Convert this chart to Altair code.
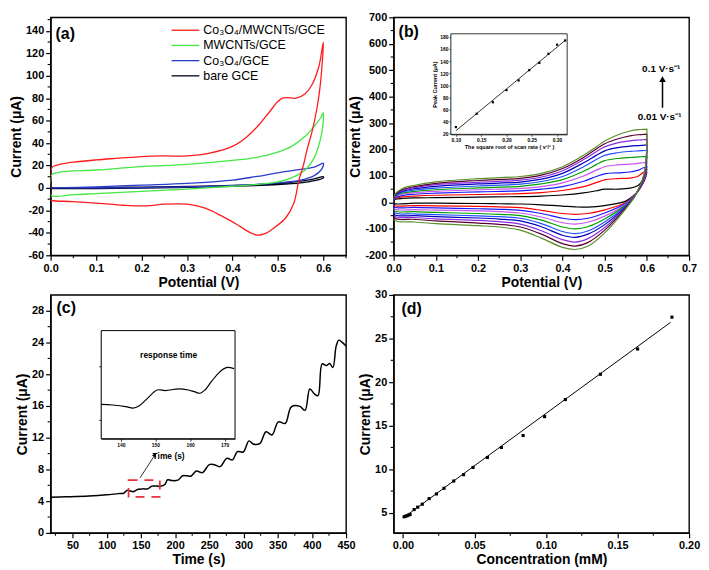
import altair as alt
import pandas as pd

FONT = "Liberation Sans"
W, H = 298, 240

# ---------------- (a) cyclic voltammograms ----------------
a_names = ["Co₃O₄/MWCNTs/GCE", "MWCNTs/GCE", "Co₃O₄/GCE", "bare GCE"]
a_colors = ["#ff1c1c", "#44e844", "#2a3ccc", "#00001a"]

a_red_x = [0.0, 0.005, 0.02, 0.05, 0.1, 0.15, 0.2, 0.25, 0.3, 0.35, 0.4, 0.43, 0.46, 0.48, 0.5, 0.51, 0.52, 0.54, 0.56, 0.575, 0.59, 0.6,
           0.598, 0.593, 0.586, 0.575, 0.564, 0.556, 0.546, 0.535, 0.517, 0.49, 0.47, 0.455, 0.44, 0.41, 0.375, 0.34, 0.30, 0.25, 0.21, 0.16, 0.107, 0.049, 0.005, 0.0, 0.0]
a_red_y = [15, 19, 21, 23, 25, 26.5, 28, 28.5, 28.5, 31, 37, 45, 57, 67, 77, 80, 80.5, 80, 84, 92, 108, 130,
           114, 91, 71, 50, 34, 20, 6.7, -13.7, -26.8, -36, -41, -42, -40, -32.6, -24.7, -18, -14.5, -14.5, -16, -15.4, -13.7, -12.2, -11.4, -11, 15]
a_grn_x = [0.0, 0.003, 0.02, 0.1, 0.2, 0.3, 0.4, 0.45, 0.5, 0.53, 0.56, 0.58, 0.595, 0.6,
           0.6, 0.597, 0.59, 0.58, 0.56, 0.53, 0.5, 0.45, 0.4, 0.3, 0.2, 0.1, 0.05, 0.0, 0.0]
a_grn_y = [6, 12, 14, 16, 19, 21, 24.5, 27, 32, 37, 46, 55, 63, 67,
           60, 50, 38, 27, 16, 9, 5.5, 3, 1.5, -1, -3, -5, -6, -6.5, 6]
a_blu_x = [0.0, 0.1, 0.2, 0.3, 0.4, 0.45, 0.5, 0.55, 0.58, 0.6, 0.6, 0.595, 0.58, 0.55, 0.5, 0.4, 0.3, 0.2, 0.1, 0.0]
a_blu_y = [0, 1, 2.5, 4, 7, 10, 13.5, 16.5, 18.5, 22, 20, 16, 11, 7, 4.5, 2, 1, 0.3, 0, 0]
a_blk_x = [0.0, 0.1, 0.2, 0.3, 0.4, 0.5, 0.55, 0.58, 0.6, 0.6, 0.58, 0.55, 0.5, 0.4, 0.3, 0.2, 0.1, 0.0]
a_blk_y = [0, 0.3, 0.8, 1.3, 2.2, 4, 6, 8, 10, 9, 6.5, 4.5, 3, 1.5, 0.5, -0.2, -0.5, -0.5]
a_xticks = [0.0, 0.1, 0.2, 0.3, 0.4, 0.5, 0.6]
a_xminor = [0.05, 0.15, 0.25, 0.35, 0.45, 0.55, 0.65]
a_yticks = [-60, -40, -20, 0, 20, 40, 60, 80, 100, 120, 140]
a_yminor = [-50, -30, -10, 10, 30, 50, 70, 90, 110, 130, 150]

# ---------------- (b) scan-rate CVs ----------------
b_colors = ["#000000", "#ff0000", "#1a1aff", "#cc55ee", "#00a000", "#2050ff", "#0000bb", "#8a2be2", "#5a0030", "#5a8f2a"]
b_up_x = [0.0, 0.005, 0.02, 0.05, 0.1, 0.2, 0.3, 0.35, 0.4, 0.45, 0.48, 0.5, 0.53, 0.56, 0.58, 0.59, 0.6]
b_dn_x = [0.6, 0.597, 0.59, 0.58, 0.57, 0.55, 0.5, 0.46, 0.43, 0.4, 0.35, 0.3, 0.25, 0.2, 0.1, 0.05, 0.0]
b_up = [
    [8, 12, 15, 17, 18, 20, 22, 24, 28, 36, 44, 50, 50, 54, 65, 85, 115],
    [10, 16, 21, 24, 27, 30, 33, 37, 45, 60, 75, 85, 90, 92, 100, 112, 122],
    [12, 19, 26, 31, 35, 40, 44, 50, 60, 80, 98, 108, 112, 115, 122, 130, 135],
    [13, 22, 31, 37, 42, 48, 53, 60, 74, 100, 122, 135, 142, 145, 148, 150, 152],
    [14, 24, 35, 42, 48, 55, 61, 70, 86, 118, 143, 158, 166, 170, 172, 173, 174],
    [15, 26, 39, 47, 54, 62, 69, 79, 98, 135, 162, 178, 188, 193, 195, 196, 197],
    [16, 28, 42, 52, 61, 70, 77, 88, 110, 150, 178, 195, 207, 213, 215, 216, 217],
    [17, 30, 45, 56, 67, 76, 84, 96, 120, 162, 192, 210, 225, 233, 236, 237, 238],
    [18, 32, 48, 60, 72, 83, 91, 103, 128, 170, 202, 222, 240, 252, 256, 257, 258],
    [20, 35, 52, 65, 78, 90, 98, 110, 135, 178, 210, 232, 255, 270, 275, 276, 277],
]
b_dn = [
    [115, 95, 70, 45, 28, 5, -12, -18, -17, -14, -9, -6, -5, -4, -3, -3, -3],
    [122, 100, 72, 45, 27, 0, -28, -42, -45, -42, -30, -20, -17, -15, -13, -12, -10],
    [135, 105, 74, 46, 26, -3, -40, -60, -65, -60, -42, -30, -26, -24, -21, -19, -16],
    [152, 110, 76, 46, 25, -6, -52, -75, -82, -77, -55, -40, -35, -32, -29, -27, -23],
    [174, 115, 78, 47, 24, -9, -63, -92, -100, -93, -67, -50, -45, -42, -38, -35, -30],
    [197, 120, 80, 47, 23, -12, -74, -108, -118, -110, -80, -60, -54, -51, -46, -43, -37],
    [217, 125, 82, 48, 22, -15, -84, -120, -132, -124, -92, -70, -63, -59, -54, -50, -44],
    [238, 130, 84, 48, 21, -18, -95, -137, -150, -141, -107, -82, -73, -68, -62, -57, -50],
    [258, 135, 86, 49, 20, -21, -105, -152, -165, -156, -120, -93, -83, -78, -70, -64, -57],
    [277, 140, 88, 50, 19, -24, -115, -166, -178, -170, -135, -105, -93, -88, -80, -74, -65],
]
b_xticks = [0.0, 0.1, 0.2, 0.3, 0.4, 0.5, 0.6, 0.7]
b_xminor = [0.05, 0.15, 0.25, 0.35, 0.45, 0.55, 0.65]
b_yticks = [-200, -100, 0, 100, 200, 300, 400, 500, 600, 700]
b_yminor = [-150, -50, 50, 150, 250, 350, 450, 550, 650]
# inset (b): peak current vs sqrt(scan rate)
bi_x = [0.1, 0.141, 0.173, 0.2, 0.224, 0.245, 0.265, 0.283, 0.3, 0.316]
bi_y = [31, 53, 72, 92, 108, 125, 137, 152, 167, 174]
bi_fit_x = [0.1, 0.316]
bi_fit_y = [25, 174]
bi_xticks = [0.10, 0.15, 0.20, 0.25, 0.30]
bi_yticks = [20, 40, 60, 80, 100, 120, 140, 160, 180]

# ---------------- (c) amperometric response ----------------
c_t = [18, 40, 74, 100, 117, 125, 129.5, 134, 139, 146, 153, 160, 166, 173, 180, 185, 189, 195, 204, 211,
       217, 223, 231, 240, 250, 257, 266, 275.5, 284, 291, 299.6, 308, 314, 323.7, 333, 341.6, 351, 361, 370, 382.5,
       390, 397, 404, 409, 415, 421, 426, 430.7, 435.5, 439.4, 444, 450]
c_i = [4.5, 4.55, 4.65, 4.8, 4.95, 5.0, 5.35, 5.3, 5.2, 5.5, 5.55, 5.55, 5.9, 5.9, 5.9, 6.1, 6.7, 6.6, 6.65, 7.2,
       7.2, 7.15, 7.8, 7.6, 8.6, 8.6, 8.35, 9.4, 9.2, 10.25, 10.2, 11.6, 11.2, 11.25, 12.75, 12.35, 14.0, 13.8, 15.9, 15.95,
       15.45, 18.15, 17.5, 17.3, 21.3, 21.1, 21.35, 20.85, 23.55, 24.3, 24.05, 23.55]
c_xticks = [50, 100, 150, 200, 250, 300, 350, 400, 450]
c_xminor = [25, 75, 125, 175, 225, 275, 325, 375, 425]
c_yticks = [0, 4, 8, 12, 16, 20, 24, 28]
c_yminor = [2, 6, 10, 14, 18, 22, 26]
ci_t = [134.3, 137.6, 141.4, 143.5, 145.2, 147.6, 150.5, 152.9, 156.7, 159.5, 161.2, 162.9, 164.3, 166.2, 168.6, 170.5, 172.7]
ci_i = [5.28, 5.27, 5.24, 5.21, 5.25, 5.39, 5.55, 5.54, 5.57, 5.55, 5.52, 5.49, 5.55, 5.71, 5.89, 5.97, 5.95]
ci_xticks = [140, 150, 160, 170]
ci_yticks = [5.0, 6.0]

# ---------------- (d) calibration ----------------
d_x = [0.0008, 0.002, 0.003, 0.004, 0.005, 0.0078, 0.0103, 0.0135, 0.0183, 0.0234, 0.0287, 0.0355, 0.0424, 0.049,
       0.059, 0.0688, 0.084, 0.099, 0.1135, 0.138, 0.164, 0.188]
d_y = [4.55, 4.62, 4.68, 4.75, 4.82, 5.38, 5.65, 5.99, 6.64, 7.17, 7.82, 8.65, 9.38, 10.21,
       11.35, 12.5, 13.87, 16.04, 18.0, 20.9, 23.8, 27.45]
d_fit_x = [0.0008, 0.187]
d_fit_y = [4.5, 26.85]
d_xticks = [0.0, 0.05, 0.1, 0.15, 0.2]
d_xminor = [0.025, 0.075, 0.125, 0.175]
d_yticks = [5, 10, 15, 20, 25, 30]
d_yminor = [7.5, 12.5, 17.5, 22.5, 27.5]


def main_axis(title, major, fmt):
    return alt.Axis(title=title, values=major, tickCount=100, labelOverlap=False,
                    labelExpr=f"replace(format(datum.value, '{fmt}'), '\u2212', '-')",
                    labelBound=False, labelFlush=False, tickSize=5)


def minor_ticks(xminor, yminor):
    """Small outward minor ticks on bottom and left edges, positioned by the panel's scales."""
    mx = alt.Chart(pd.DataFrame({"x": xminor})).mark_rule(
        color="black", strokeWidth=1.1, clip=False).encode(
        x="x:Q", y=alt.value(H), y2=alt.value(H + 3))
    my = alt.Chart(pd.DataFrame({"y": yminor})).mark_rule(
        color="black", strokeWidth=1.1, clip=False).encode(
        y="y:Q", x=alt.value(0), x2=alt.value(-3))
    return mx, my


def label(txt, x=5, y=16):
    return alt.Chart(pd.DataFrame({"t": [txt]})).mark_text(
        font=FONT, fontSize=16, fontWeight="bold", align="left", baseline="middle", color="black"
    ).encode(x=alt.value(x), y=alt.value(y), text="t:N")


# ---- panel a ----
rows = []
for n, c, xs, ys in zip(a_names[::-1], a_colors[::-1],
                        [a_blk_x, a_blu_x, a_grn_x, a_red_x], [a_blk_y, a_blu_y, a_grn_y, a_red_y]):
    rows += [dict(s=n, c=c, i=i, x=x, y=y) for i, (x, y) in enumerate(zip(xs, ys))]
a_df = pd.DataFrame(rows)
a_curves = alt.Chart(a_df).mark_line(strokeWidth=1.3, clip=True, interpolate="catmull-rom").encode(
    x=alt.X("x:Q", scale=alt.Scale(domain=[0, 0.65], nice=False, zero=False),
            axis=main_axis("Potential (V)", a_xticks, ".1f")),
    y=alt.Y("y:Q", scale=alt.Scale(domain=[-60, 152], nice=False, zero=False),
            axis=main_axis("Current (μA)", a_yticks, "d")),
    color=alt.Color("c:N", scale=None),
    detail="s:N",
    order="i:Q",
)
leg_df = pd.DataFrame({"lab": a_names, "c": a_colors, "row": list(range(len(a_names)))})
leg_y = alt.Y("row:Q", scale=alt.Scale(domain=[0, 3], range=[13, 59]), axis=None)
leg_rule = alt.Chart(leg_df).mark_rule(strokeWidth=1.3).encode(
    x=alt.value(122), x2=alt.value(150), y=leg_y, color=alt.Color("c:N", scale=None))
leg_text = alt.Chart(leg_df).mark_text(font=FONT, fontSize=12.5, align="left", baseline="middle", color="black").encode(
    x=alt.value(154), y=leg_y, text="lab:N")
panel_a = alt.layer(
    alt.layer(a_curves, *minor_ticks(a_xminor, a_yminor), label("(a)", 5, 17)),
    alt.layer(leg_rule, leg_text),
).resolve_scale(y="independent").properties(width=W, height=H)

# ---- panel b ----
rows = []
for k in range(len(b_up)):
    xs = b_up_x + b_dn_x + [b_up_x[0]]
    ys = b_up[k] + b_dn[k] + [b_up[k][0]]
    rows += [dict(s=k, c=b_colors[k], i=i, x=x, y=y) for i, (x, y) in enumerate(zip(xs, ys))]
b_df = pd.DataFrame(rows)
b_curves = alt.Chart(b_df).mark_line(strokeWidth=1.2, clip=True, interpolate="catmull-rom").encode(
    x=alt.X("x:Q", scale=alt.Scale(domain=[0, 0.7], nice=False, zero=False),
            axis=main_axis("Potential (V)", b_xticks, ".1f")),
    y=alt.Y("y:Q", scale=alt.Scale(domain=[-200, 700], nice=False, zero=False),
            axis=main_axis("Current (μA)", b_yticks, "d")),
    color=alt.Color("c:N", scale=None),
    detail="s:N",
    order="i:Q",
)
arr_df = pd.DataFrame({"x": [0.637], "y": [358], "y2": [462]})
b_arrow = alt.Chart(arr_df).mark_rule(strokeWidth=1.5, color="black").encode(
    x="x:Q", y="y:Q", y2="y2:Q")
b_head = alt.Chart(pd.DataFrame({"x": [0.637], "y": [466]})).mark_point(
    shape="triangle-up", filled=True, size=45, color="black", opacity=1).encode(x="x:Q", y="y:Q")
b_txt = alt.Chart(pd.DataFrame({"x": [0.634, 0.63], "y": [503, 323], "t": ["0.1 V·s⁻¹", "0.01 V·s⁻¹"]})).mark_text(
    font=FONT, fontSize=10, fontWeight="bold", color="black").encode(x="x:Q", y="y:Q", text="t:N")

BX0, BX1, BYT, BYB = 57.7, 175, 16.6, 118
bix = alt.Scale(domain=[0.09, 0.32], range=[BX0, BX1], nice=False, zero=False)
biy = alt.Scale(domain=[19, 185], range=[BYB, BYT], nice=False, zero=False)
bi_frame = alt.Chart(pd.DataFrame({"x": [0.09], "x2": [0.32], "y": [19], "y2": [185]})).mark_rect(
    fill="white", stroke="black", strokeWidth=0.8).encode(
    x=alt.X("x:Q", scale=bix, axis=alt.Axis(
        values=bi_xticks, format=".2f", orient="bottom", offset=-(H - BYB), tickCount=100,
        labelFontSize=5, tickSize=2, labelPadding=1, domainWidth=0.8, tickWidth=0.6,
        labelOverlap=False, labelBound=False, labelFlush=False,
        title="The square root of scan rate   ( v¹/² )", titleFontSize=5.5, titlePadding=2)),
    x2="x2:Q",
    y=alt.Y("y:Q", scale=biy, axis=alt.Axis(
        values=bi_yticks, orient="left", offset=-BX0, tickCount=100,
        labelFontSize=5, tickSize=2, labelPadding=1, domainWidth=0.8, tickWidth=0.6,
        labelOverlap=False, labelBound=False, labelFlush=False,
        title="Peak Current (μA)", titleFontSize=5.5, titlePadding=2)),
    y2="y2:Q",
)
bi_line = alt.Chart(pd.DataFrame({"x": bi_fit_x, "y": bi_fit_y})).mark_line(color="black", strokeWidth=0.8).encode(
    x=alt.X("x:Q", scale=bix), y=alt.Y("y:Q", scale=biy))
bi_pts = alt.Chart(pd.DataFrame({"x": bi_x, "y": bi_y})).mark_square(color="black", size=5, opacity=1).encode(
    x=alt.X("x:Q", scale=bix), y=alt.Y("y:Q", scale=biy))
panel_b = alt.layer(
    alt.layer(b_curves, *minor_ticks(b_xminor, b_yminor), b_arrow, b_head, b_txt, label("(b)", 5, 15)),
    alt.layer(bi_frame, bi_line, bi_pts),
).resolve_scale(x="independent", y="independent").properties(width=W, height=H)

# ---- panel c ----
c_main = alt.Chart(pd.DataFrame({"x": c_t, "y": c_i})).mark_line(
    color="black", strokeWidth=1.5, clip=True, interpolate="catmull-rom").encode(
    x=alt.X("x:Q", scale=alt.Scale(domain=[18, 450], nice=False, zero=False),
            axis=main_axis("Time (s)", c_xticks, "d")),
    y=alt.Y("y:Q", scale=alt.Scale(domain=[0, 30], nice=False, zero=False),
            axis=main_axis("Current (μA)", c_yticks, "d")),
)
c_box = alt.Chart(pd.DataFrame({"x": [132], "x2": [177.7], "y": [4.53], "y2": [6.65]})).mark_rect(
    fillOpacity=0, stroke="#e8303a", strokeWidth=1.8, strokeDash=[9, 7]).encode(
    x="x:Q", x2="x2:Q", y="y:Q", y2="y2:Q")
c_arrow = alt.Chart(pd.DataFrame({"x": [148.8], "y": [6.94], "x2": [169.5], "y2": [9.7]})).mark_rule(
    color="black", strokeWidth=0.8).encode(x="x:Q", y="y:Q", x2="x2:Q", y2="y2:Q")
c_head = alt.Chart(pd.DataFrame({"x": [170.5], "y": [9.85]})).mark_point(
    shape="triangle-up", filled=True, size=22, angle=33, color="black", opacity=1).encode(x="x:Q", y="y:Q")

CX0, CX1, CYT, CYB = 51, 186, 36, 145
cix = alt.Scale(domain=[134.3, 173], range=[CX0, CX1], nice=False, zero=False)
ciy = alt.Scale(domain=[4.64, 6.66], range=[CYB, CYT], nice=False, zero=False)
ci_frame = alt.Chart(pd.DataFrame({"x": [134.3], "x2": [173], "y": [4.64], "y2": [6.66]})).mark_rect(
    fill="white", stroke="black", strokeWidth=1).encode(
    x=alt.X("x:Q", scale=cix, axis=alt.Axis(
        values=ci_xticks, format="d", orient="bottom", offset=-(H - CYB), tickCount=100,
        labelFontSize=5, tickSize=2.5, labelPadding=1, domainWidth=1, tickWidth=0.8,
        labelOverlap=False, labelBound=False, labelFlush=False,
        title="Time (s)", titleFontSize=8.5, titlePadding=4)),
    x2="x2:Q",
    y=alt.Y("y:Q", scale=ciy, axis=alt.Axis(
        values=ci_yticks, labels=False, orient="left", offset=-CX0, tickCount=100,
        tickSize=2.5, domainWidth=1, tickWidth=0.8, title="")),
    y2="y2:Q",
)
ci_line = alt.Chart(pd.DataFrame({"x": ci_t, "y": ci_i})).mark_line(
    color="black", strokeWidth=1.2, interpolate="catmull-rom").encode(
    x=alt.X("x:Q", scale=cix), y=alt.Y("y:Q", scale=ciy))
ci_txt = alt.Chart(pd.DataFrame({"t": ["response time"]})).mark_text(
    font=FONT, fontSize=8.5, fontWeight="bold", color="black").encode(
    x=alt.value(119), y=alt.value(61), text="t:N")
panel_c = alt.layer(
    alt.layer(c_main, *minor_ticks(c_xminor, c_yminor), c_box, c_arrow, c_head, label("(c)", 6, 13)),
    alt.layer(ci_frame, ci_line, ci_txt),
).resolve_scale(x="independent", y="independent").properties(width=W, height=H)

# ---- panel d ----
d_pts = alt.Chart(pd.DataFrame({"x": d_x, "y": d_y})).mark_square(color="black", size=10, opacity=1).encode(
    x=alt.X("x:Q", scale=alt.Scale(domain=[-0.0065, 0.2], nice=False, zero=False),
            axis=main_axis("Concentration (mM)", d_xticks, ".2f")),
    y=alt.Y("y:Q", scale=alt.Scale(domain=[2.7, 30], nice=False, zero=False),
            axis=main_axis("Current (μA)", d_yticks, "d")),
)
d_line = alt.Chart(pd.DataFrame({"x": d_fit_x, "y": d_fit_y})).mark_line(color="black", strokeWidth=1).encode(
    x="x:Q", y="y:Q")
panel_d = alt.layer(d_pts, d_line, *minor_ticks(d_xminor, d_yminor), label("(d)", 8, 14)).properties(width=W, height=H)

chart = alt.concat(
    panel_a, panel_b, panel_c, panel_d,
    columns=2, spacing={"row": 40, "column": 48}, bounds="flush",
).properties(
    padding={"left": 0, "top": 0, "right": 0, "bottom": 0}
).configure(font=FONT).configure_axis(
    labelFont=FONT, labelFontSize=11, labelFontWeight="bold", labelColor="black",
    titleFont=FONT, titleFontSize=14, titleFontWeight="bold", titleColor="black",
    domainColor="black", domainWidth=1.2, tickColor="black", tickWidth=1.2,
    grid=False, labelPadding=2, titlePadding=2, labelOverlap=False,
).configure_view(stroke="black", strokeWidth=1.4)

chart.save("out.html", embed_options={"renderer": "svg", "actions": False})
